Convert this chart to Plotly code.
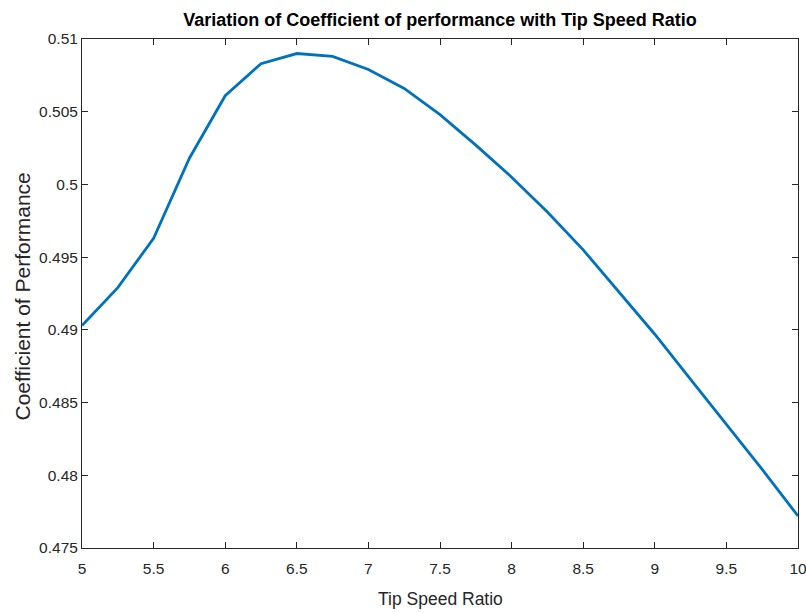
import plotly.graph_objects as go

tsr = [5.0, 5.25, 5.5, 5.75, 6.0, 6.25, 6.5, 6.75, 7.0, 7.25, 7.5, 7.75,
       8.0, 8.25, 8.5, 8.75, 9.0, 9.25, 9.5, 9.75, 10.0]
cp = [0.4903, 0.4929, 0.4963, 0.5018, 0.5061, 0.5083, 0.5090, 0.5088, 0.5079,
      0.5066, 0.5048, 0.5027, 0.5005, 0.4981, 0.4955, 0.4926, 0.4897, 0.4866,
      0.4835, 0.4804, 0.4772]

x_ticks = [5, 5.5, 6, 6.5, 7, 7.5, 8, 8.5, 9, 9.5, 10]
x_labels = ["5", "5.5", "6", "6.5", "7", "7.5", "8", "8.5", "9", "9.5", "10"]
y_ticks = [0.475, 0.48, 0.485, 0.49, 0.495, 0.5, 0.505, 0.51]
y_labels = ["0.475", "0.48", "0.485", "0.49", "0.495", "0.5", "0.505", "0.51"]

title_text = "Variation of Coefficient of performance with Tip Speed Ratio"
x_title = "Tip Speed Ratio"
y_title = "Coefficient of Performance"

regular = "Liberation Sans, Arial, sans-serif"
axis_col = "#262626"

fig = go.Figure()
fig.add_trace(go.Scatter(x=tsr, y=cp, mode="lines",
                         line=dict(color="#0072BD", width=2.8),
                         showlegend=False))

axis_common = dict(
    showgrid=False, zeroline=False, showline=True, linecolor=axis_col,
    linewidth=1, mirror="ticks", ticks="inside", ticklen=6, tickwidth=1,
    tickcolor=axis_col, ticklabeloverflow="allow", automargin=False,
    tickfont=dict(family=regular, size=15.5, color=axis_col),
)

fig.update_xaxes(range=[5, 10], tickvals=x_ticks, ticktext=x_labels,
                 ticklabelstandoff=6, **axis_common)
fig.update_yaxes(range=[0.475, 0.51], tickvals=y_ticks, ticktext=y_labels,
                 **axis_common)

fig.update_layout(
    width=806, height=613,
    margin=dict(l=82, r=8, t=39, b=65, autoexpand=False),
    plot_bgcolor="white", paper_bgcolor="white",
    title=dict(text="<b>" + title_text + "</b>", x=0.5, xref="paper",
               y=1 - 20 / 613, yref="container", yanchor="middle",
               xanchor="center", automargin=False,
               font=dict(family=regular, size=18, color="black")),
    annotations=[
        dict(text=x_title, x=0.5, xref="paper", y=0, yref="paper",
             yshift=-51, yanchor="middle", xanchor="center", showarrow=False,
             font=dict(family=regular, size=17.5, color=axis_col)),
        dict(text=y_title, x=0, xref="paper", y=0.5, yref="paper",
             xshift=-60, yshift=-3, xanchor="center", yanchor="middle",
             textangle=-90, showarrow=False,
             font=dict(family=regular, size=21, color=axis_col)),
    ],
)

fig.write_html("out.html")
